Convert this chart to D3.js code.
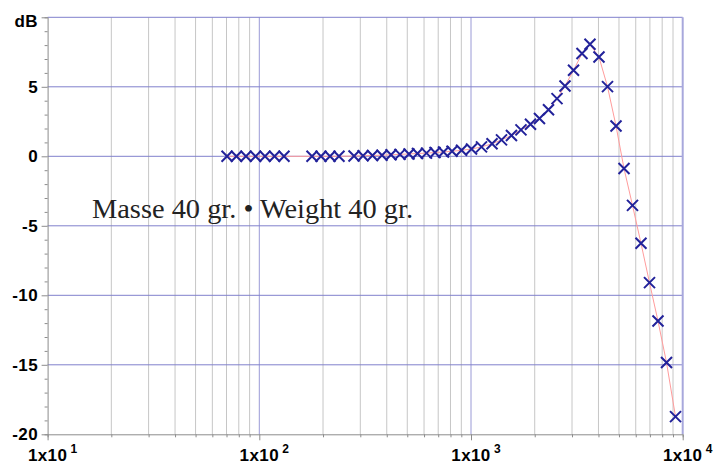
<!DOCTYPE html>
<html>
<head>
<meta charset="utf-8">
<script src="https://cdn.jsdelivr.net/npm/d3@7"></script>
<style>
	body { margin: 0; background: #fff; }
	svg { display: block; }
</style>
</head>
<body>
<svg id="chart" width="714" height="465"></svg>
<script>
var freqs = [
	70.4, 78.0, 86.5, 96.0, 106.4, 118.0, 130.8,
	177.4, 195.6, 215.8, 237.9,
	280.2, 309, 342.5, 379.8, 419, 461.9, 509.4, 558.7, 616.3, 676.1,
	741.6, 813.5, 902.3, 1005.6, 1121, 1257, 1393.5, 1553, 1722, 1910,
	2106, 2323, 2548, 2780, 3050, 3344, 3648, 4023, 4414, 4842,
	5282, 5793, 6353, 6969, 7643, 8386, 9248
];
var levels = [
	0, 0, 0, 0, 0, 0, 0,
	0, 0, 0, 0,
	0.02, 0.04, 0.06, 0.08, 0.11, 0.14, 0.17, 0.2, 0.23, 0.27,
	0.31, 0.36, 0.43, 0.52, 0.68, 0.9, 1.18, 1.5, 1.9, 2.3,
	2.72, 3.35, 4.15, 5.06, 6.19, 7.39, 8.06, 7.14, 5.01, 2.18,
	-0.88, -3.53, -6.26, -9.09, -11.85, -14.84, -18.73
];
var yTicks = [10, 5, 0, -5, -10, -15, -20];
var yTickLabels = ["dB", "5", "0", "-5", "-10", "-15", "-20"];
var decades = [10, 100, 1000, 10000];
var decadeExp = ["1", "2", "3", "4"];
var note = "Masse 40 gr. \u2022 Weight 40 gr.";

function draw() {
	var svg = d3.select("#chart");
	var pl = 47.6, pr = 682.7, pt = 17.3, pb = 434.3;

	var x = d3.scaleLog().domain([10, 10000]).range([pl, pr]);
	var y = d3.scaleLinear().domain([-20, 10]).range([pb, pt]);

	// minor log gridlines (2..9 in each decade)
	var minors = [];
	decades.slice(0, 3).forEach(function(d) {
		for (var k = 2; k <= 9; k++) minors.push(d * k);
	});

	var grid = svg.append("g");
	grid.selectAll("line.minor")
		.data(minors)
		.enter().append("line")
			.attr("x1", d => x(d)).attr("x2", d => x(d))
			.attr("y1", pt).attr("y2", pb)
			.attr("stroke", "#c6c6c6").attr("stroke-width", 1);

	grid.selectAll("line.dec")
		.data([100, 1000])
		.enter().append("line")
			.attr("x1", d => x(d)).attr("x2", d => x(d))
			.attr("y1", pt).attr("y2", pb)
			.attr("stroke", "#9a9ad6").attr("stroke-width", 1);

	grid.selectAll("line.h")
		.data([10, 5, 0, -5, -10, -15])
		.enter().append("line")
			.attr("x1", pl).attr("x2", pr)
			.attr("y1", d => y(d)).attr("y2", d => y(d))
			.attr("stroke", "#8080cc").attr("stroke-width", 1);

	// right border
	grid.append("line")
		.attr("x1", pr).attr("x2", pr)
		.attr("y1", pt).attr("y2", pb)
		.attr("stroke", "#a8a8dc").attr("stroke-width", 2);

	// axes
	var axisY = d3.axisLeft(y).tickValues(d3.range(-20, 11, 1)).tickSize(3).tickFormat("");
	var gy = svg.append("g").attr("transform", `translate(${pl},0)`).call(axisY);
	gy.selectAll(".tick line").attr("x2", d => d % 5 == 0 ? -6 : -3);
	gy.selectAll("line, path").attr("stroke", "#8c8c8c");

	var axisX = d3.axisBottom(x).tickValues(minors.concat(decades)).tickSize(3).tickFormat("");
	var gx = svg.append("g").attr("transform", `translate(0,${pb})`).call(axisX);
	gx.selectAll(".tick line").attr("y2", d => decades.indexOf(d) > -1 ? 6 : 3);
	gx.selectAll("line, path").attr("stroke", "#8c8c8c");

	// y labels
	svg.append("g").selectAll("text")
		.data(yTicks)
		.enter().append("text")
			.attr("x", 38)
			.attr("y", (d, i) => i == 0 ? 27 : y(d) + 6)
			.attr("text-anchor", "end")
			.style("font-family", "'Liberation Sans', Arial, sans-serif")
			.style("font-weight", "bold")
			.style("font-size", "17px")
			.style("letter-spacing", "0.4px")
			.text((d, i) => yTickLabels[i]);

	// x labels: 1x10 with superscript exponent
	var xl = svg.append("g").selectAll("g")
		.data(decades)
		.enter().append("g")
			.attr("transform", d => `translate(${x(d)},461)`);
	xl.append("text")
		.attr("text-anchor", "middle")
		.style("font-family", "'Liberation Sans', Arial, sans-serif")
		.style("font-weight", "bold")
		.style("font-size", "17px")
		.style("letter-spacing", "0.4px")
		.text("1x10");
	xl.append("text")
		.attr("x", 23)
		.attr("y", -8)
		.style("font-family", "'Liberation Sans', Arial, sans-serif")
		.style("font-weight", "bold")
		.style("font-size", "12px")
		.text((d, i) => decadeExp[i]);

	// annotation
	svg.append("text")
		.attr("x", 92)
		.attr("y", 218)
		.attr("textLength", 321)
		.attr("lengthAdjust", "spacingAndGlyphs")
		.style("font-family", "'Liberation Serif', 'Times New Roman', serif")
		.style("font-size", "28px")
		.attr("fill", "#222")
		.text(note);

	// data
	var pts = freqs.map((f, i) => ({f: f, v: levels[i]}));

	svg.append("path")
		.datum(pts)
		.attr("fill", "none")
		.attr("stroke", "#ff9c9c")
		.attr("stroke-width", 1)
		.attr("d", d3.line().x(d => x(d.f)).y(d => y(d.v)));

	svg.append("g").selectAll("path")
		.data(pts)
		.enter().append("path")
			.attr("transform", d => `translate(${x(d.f)},${y(d.v)})`)
			.attr("d", "M-5.5,-5.5L5.5,5.5M-5.5,5.5L5.5,-5.5")
			.attr("stroke", "#22229a")
			.attr("stroke-width", 2)
			.attr("fill", "none");
}

draw();
</script>
</body>
</html>
